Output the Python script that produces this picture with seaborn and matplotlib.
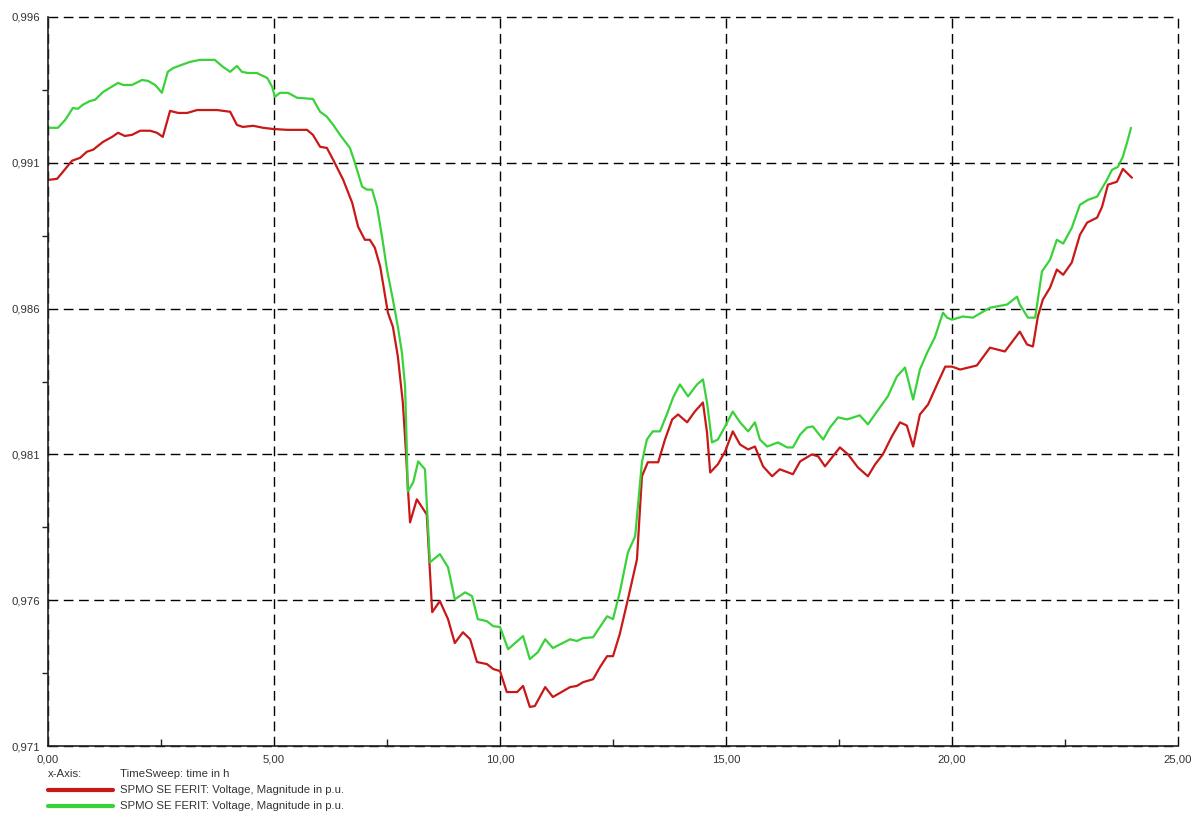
import matplotlib
matplotlib.use("Agg")
import matplotlib.pyplot as plt
from matplotlib.lines import Line2D
from matplotlib.ticker import FuncFormatter, FixedLocator
import seaborn as sns
import pandas as pd

# ---- data (time in h, voltage magnitude in p.u.) ----
red_time = [0.04, 0.20, 0.33, 0.53, 0.71, 0.86, 1.00, 1.22, 1.42, 1.55, 1.70, 1.86, 2.04, 2.26, 2.41, 2.54,
            2.70, 2.88, 3.08, 3.30, 3.74, 4.03, 4.18, 4.31, 4.54, 4.76, 4.98, 5.29, 5.73, 5.86, 6.02, 6.17,
            6.31, 6.53, 6.73, 6.86, 7.01, 7.12, 7.23, 7.35, 7.46, 7.52, 7.63, 7.74, 7.85, 7.92, 7.96, 8.01,
            8.16, 8.38, 8.50, 8.67, 8.85, 9.00, 9.18, 9.34, 9.49, 9.71, 9.85, 10.00, 10.15, 10.38, 10.51,
            10.66, 10.77, 11.00, 11.17, 11.55, 11.70, 11.84, 12.06, 12.21, 12.37, 12.50, 12.65, 12.83,
            13.03, 13.14, 13.27, 13.50, 13.65, 13.81, 13.94, 14.14, 14.31, 14.49, 14.58, 14.65, 14.82,
            14.98, 15.15, 15.31, 15.49, 15.64, 15.82, 16.02, 16.19, 16.48, 16.64, 16.90, 17.04, 17.19,
            17.52, 17.70, 17.92, 18.14, 18.30, 18.47, 18.67, 18.85, 19.00, 19.14, 19.29, 19.47, 19.69,
            19.85, 20.00, 20.18, 20.55, 20.84, 21.17, 21.50, 21.66, 21.79, 21.90, 22.01, 22.17, 22.32,
            22.46, 22.65, 22.83, 22.99, 23.21, 23.32, 23.45, 23.65, 23.78, 23.98]
red_voltage = [0.99042, 0.99045, 0.99069, 0.99107, 0.99117, 0.99138, 0.99145, 0.99172, 0.99189, 0.99203,
               0.99192, 0.99196, 0.99210, 0.99210, 0.99203, 0.99189, 0.99278, 0.99271, 0.99271, 0.99281,
               0.99281, 0.99275, 0.99230, 0.99223, 0.99227, 0.99220, 0.99216, 0.99213, 0.99213, 0.99196,
               0.99155, 0.99151, 0.99110, 0.99042, 0.98963, 0.98881, 0.98836, 0.98836, 0.98809, 0.98744,
               0.98641, 0.98586, 0.98538, 0.98436, 0.98278, 0.98107, 0.97990, 0.97867, 0.97946, 0.97894,
               0.97559, 0.97597, 0.97535, 0.97453, 0.97490, 0.97466, 0.97388, 0.97381, 0.97364, 0.97357,
               0.97285, 0.97285, 0.97306, 0.97234, 0.97237, 0.97302, 0.97268, 0.97302, 0.97306, 0.97319,
               0.97329, 0.97370, 0.97408, 0.97408, 0.97484, 0.97603, 0.97740, 0.98025, 0.98073, 0.98073,
               0.98151, 0.98220, 0.98237, 0.98210, 0.98247, 0.98278, 0.98175, 0.98038, 0.98066, 0.98110,
               0.98179, 0.98134, 0.98117, 0.98127, 0.98059, 0.98025, 0.98049, 0.98032, 0.98076, 0.98100,
               0.98093, 0.98059, 0.98124, 0.98100, 0.98055, 0.98025, 0.98066, 0.98100, 0.98162, 0.98210,
               0.98199, 0.98127, 0.98237, 0.98271, 0.98347, 0.98401, 0.98401, 0.98391, 0.98405, 0.98466,
               0.98453, 0.98521, 0.98477, 0.98470, 0.98573, 0.98631, 0.98672, 0.98734, 0.98716, 0.98758,
               0.98853, 0.98895, 0.98912, 0.98949, 0.99025, 0.99035, 0.99079, 0.99049]

green_time = [0.04, 0.22, 0.38, 0.55, 0.66, 0.77, 0.93, 1.04, 1.22, 1.37, 1.55, 1.66, 1.86, 2.08, 2.21, 2.37,
              2.52, 2.65, 2.77, 2.96, 3.14, 3.36, 3.69, 3.87, 4.03, 4.18, 4.29, 4.42, 4.62, 4.85, 4.96, 5.02,
              5.13, 5.31, 5.51, 5.86, 6.02, 6.17, 6.31, 6.46, 6.68, 6.79, 6.95, 7.06, 7.17, 7.28, 7.39, 7.50,
              7.63, 7.74, 7.83, 7.90, 7.94, 7.96, 8.08, 8.19, 8.34, 8.45, 8.67, 8.85, 9.00, 9.23, 9.38, 9.51,
              9.71, 9.85, 10.00, 10.18, 10.51, 10.66, 10.84, 11.00, 11.17, 11.55, 11.70, 11.84, 12.06, 12.21,
              12.37, 12.50, 12.65, 12.83, 12.99, 13.14, 13.25, 13.38, 13.54, 13.69, 13.83, 13.98, 14.16,
              14.36, 14.49, 14.58, 14.69, 14.82, 14.98, 15.15, 15.31, 15.49, 15.64, 15.75, 15.91, 16.15,
              16.35, 16.48, 16.64, 16.79, 16.92, 17.15, 17.30, 17.48, 17.68, 17.96, 18.14, 18.34, 18.58,
              18.78, 18.96, 19.14, 19.29, 19.45, 19.62, 19.80, 19.89, 20.00, 20.24, 20.46, 20.84, 21.22,
              21.44, 21.50, 21.68, 21.84, 21.99, 22.17, 22.32, 22.46, 22.65, 22.83, 23.01, 23.21, 23.43,
              23.54, 23.67, 23.78, 23.89, 23.96]
green_voltage = [0.99220, 0.99220, 0.99247, 0.99288, 0.99285, 0.99299, 0.99312, 0.99316, 0.99343, 0.99357,
                 0.99374, 0.99367, 0.99367, 0.99384, 0.99381, 0.99367, 0.99340, 0.99412, 0.99425, 0.99436,
                 0.99446, 0.99453, 0.99453, 0.99429, 0.99412, 0.99432, 0.99412, 0.99408, 0.99408, 0.99391,
                 0.99360, 0.99326, 0.99340, 0.99340, 0.99323, 0.99319, 0.99275, 0.99258, 0.99230, 0.99196,
                 0.99151, 0.99100, 0.99018, 0.99008, 0.99008, 0.98949, 0.98847, 0.98734, 0.98631, 0.98538,
                 0.98449, 0.98333, 0.98107, 0.97973, 0.98004, 0.98076, 0.98049, 0.97730, 0.97758, 0.97713,
                 0.97603, 0.97627, 0.97614, 0.97535, 0.97528, 0.97511, 0.97508, 0.97432, 0.97477, 0.97398,
                 0.97422, 0.97466, 0.97436, 0.97466, 0.97460, 0.97470, 0.97473, 0.97508, 0.97545, 0.97535,
                 0.97627, 0.97764, 0.97819, 0.98073, 0.98151, 0.98179, 0.98179, 0.98237, 0.98295, 0.98340,
                 0.98299, 0.98340, 0.98357, 0.98278, 0.98141, 0.98151, 0.98196, 0.98247, 0.98210, 0.98179,
                 0.98210, 0.98151, 0.98127, 0.98141, 0.98124, 0.98124, 0.98168, 0.98192, 0.98196, 0.98151,
                 0.98192, 0.98227, 0.98220, 0.98234, 0.98203, 0.98247, 0.98299, 0.98367, 0.98398, 0.98288,
                 0.98391, 0.98449, 0.98501, 0.98586, 0.98569, 0.98562, 0.98573, 0.98569, 0.98603, 0.98614,
                 0.98641, 0.98614, 0.98569, 0.98569, 0.98727, 0.98768, 0.98836, 0.98823, 0.98877, 0.98956,
                 0.98973, 0.98984, 0.99042, 0.99076, 0.99086, 0.99121, 0.99179, 0.99220]

x_ticks = [0, 5, 10, 15, 20, 25]
x_minor = [2.5, 7.5, 12.5, 17.5, 22.5]
y_ticks = [0.971, 0.976, 0.981, 0.986, 0.991, 0.996]
y_minor = [0.9735, 0.9785, 0.9835, 0.9885, 0.9935]
series_label = "SPMO SE FERIT: Voltage, Magnitude in p.u."
x_axis_label = "TimeSweep: time in h"

RED = "#c81818"
GREEN = "#3ad23a"
FONT = ["Liberation Sans", "DejaVu Sans"]
FS = 8.2

sns.set_theme(style="white")
plt.rcParams["font.family"] = FONT

fig = plt.figure(figsize=(11.98, 8.14), dpi=100)
ax = fig.add_axes([48 / 1198, 1 - 746 / 814, (1178 - 48) / 1198, (746 - 17) / 814])
ax.set_facecolor("white")

df_red = pd.DataFrame({"t": red_time, "v": red_voltage})
df_green = pd.DataFrame({"t": green_time, "v": green_voltage})
sns.lineplot(data=df_red, x="t", y="v", color=RED, lw=1.6, ax=ax, estimator=None, sort=False)
sns.lineplot(data=df_green, x="t", y="v", color=GREEN, lw=1.6, ax=ax, estimator=None, sort=False)

ax.set_xlim(0, 25)
ax.set_ylim(0.971, 0.996)
ax.set_xticks(x_ticks)
ax.set_yticks(y_ticks)
ax.xaxis.set_minor_locator(FixedLocator(x_minor))
ax.yaxis.set_minor_locator(FixedLocator(y_minor))
ax.xaxis.set_major_formatter(FuncFormatter(lambda v, p: f"{v:.2f}".replace(".", ",")))
ax.yaxis.set_major_formatter(FuncFormatter(lambda v, p: f"{v:.3f}".replace(".", ",")))
ax.set_xlabel("")
ax.set_ylabel("")

ax.grid(True, which="major", color="black", linestyle=(0, (7, 4)), linewidth=1.0)
ax.set_axisbelow(True)
for gl in ax.get_xgridlines() + ax.get_ygridlines():
    gl.set_clip_on(False)
for s in ["top", "right"]:
    ax.spines[s].set_visible(False)
for s in ["left", "bottom"]:
    ax.spines[s].set_color("#222222")
    ax.spines[s].set_linewidth(1.2)

ax.tick_params(axis="both", which="major", length=0, labelsize=FS, labelcolor="#333333")
ax.tick_params(axis="x", which="major", pad=6)
ax.tick_params(axis="y", which="major", pad=6)
ax.tick_params(axis="x", which="minor", direction="in", length=5, width=1.0, color="#222222", bottom=True)
ax.tick_params(axis="y", which="minor", direction="out", length=4, width=1.0, color="#222222", left=True)

# legend block below the axes
def fy(py):
    return 1 - py / 814

def fx(px):
    return px / 1198

fig.text(fx(48), fy(774), "x-Axis:", fontsize=FS, color="#333333", va="center", ha="left")
fig.text(fx(120), fy(774), x_axis_label, fontsize=FS, color="#333333", va="center", ha="left")
for row_y, col in [(790, RED), (806, GREEN)]:
    fig.add_artist(Line2D([fx(48), fx(113)], [fy(row_y), fy(row_y)], color=col, lw=3.0,
                          transform=fig.transFigure))
    fig.text(fx(120), fy(row_y), series_label, fontsize=FS, color="#333333", va="center", ha="left")

fig.savefig("out.png", dpi=100, facecolor="white")
